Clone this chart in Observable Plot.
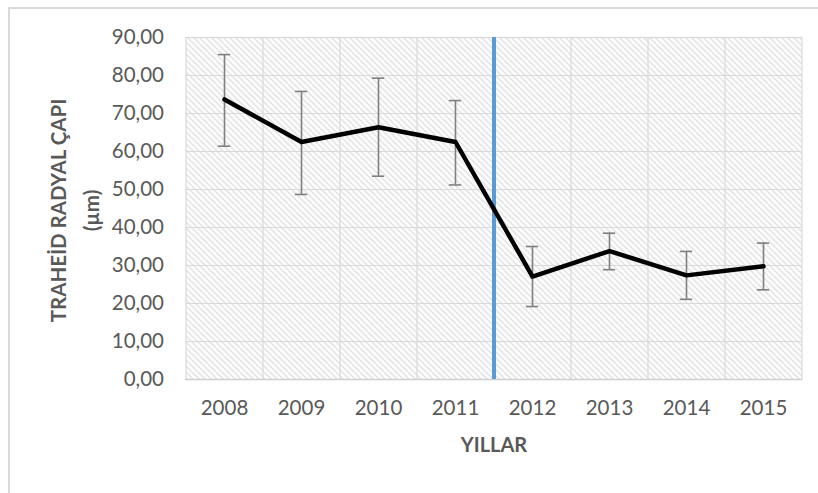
<!DOCTYPE html>
<html><head><meta charset="utf-8">
<script src="https://cdn.jsdelivr.net/npm/d3@7"></script>
<script src="https://cdn.jsdelivr.net/npm/@observablehq/plot@0.6"></script>
<style>
html,body{margin:0;padding:0;background:#fff;overflow:hidden;}
#wrap{position:relative;width:818px;height:493px;}
#border{position:absolute;left:8px;top:7px;width:840px;height:540px;border:2px solid #d9d9d9;box-sizing:border-box;}
#wrap svg{position:absolute;left:0;top:0;}
</style></head><body><div id="wrap"><div id="border"></div></div>
<script>
const years = ["2008", "2009", "2010", "2011", "2012", "2013", "2014", "2015"];
const means = [73.7, 62.5, 66.4, 62.5, 27.1, 33.8, 27.4, 29.8];
const upper = [85.5, 75.8, 79.3, 73.4, 35.0, 38.5, 33.7, 35.9];
const lower = [61.4, 48.7, 53.5, 51.2, 19.2, 28.9, 21.1, 23.6];
const yTicks = [0, 10, 20, 30, 40, 50, 60, 70, 80, 90];
const breakAfter = "2011";
const yTitle = "TRAHEİD RADYAL ÇAPI";
const yUnit = "(µm)";
const xTitle = "YILLAR";

const data = years.map((yr, i) => ({i, yr, mean: means[i], hi: upper[i], lo: lower[i]}));
const boundaries = years.slice(1).map((_, i) => i + 0.5);
const breakPos = [years.indexOf(breakAfter) + 0.5];
const capHalf = 0.08;
const fmt = d => d.toFixed(2).replace(".", ",");
const FONT = "Lato, 'Open Sans', sans-serif";

const chart = Plot.plot({
  width: 818,
  height: 493,
  marginLeft: 185.5,
  marginRight: 16.5,
  marginTop: 37,
  marginBottom: 114,
  style: {fontFamily: FONT, fontSize: "20.5px", color: "#595959", background: "transparent", overflow: "visible"},
  x: {type: "linear", domain: [-0.5, years.length - 0.5], axis: null},
  y: {domain: [0, 90], axis: null},
  marks: [
    Plot.frame({fill: "url(#hatch)", stroke: "#d9d9d9", strokeWidth: 1.2}),
    Plot.gridY(yTicks, {stroke: "#d9d9d9", strokeOpacity: 1, strokeWidth: 1.2}),
    Plot.ruleX(boundaries, {stroke: "#d9d9d9", strokeWidth: 1.2}),
    Plot.ruleY([0], {stroke: "#d0d0d0", strokeWidth: 1.5}),
    Plot.axisY(yTicks, {tickSize: 0, tickPadding: 22, tickFormat: fmt, fill: "#595959", fontSize: 20.5, label: null}),
    Plot.axisX(years.map((_, i) => i), {tickSize: 0, tickPadding: 21, tickFormat: i => years[i], fill: "#595959", fontSize: 20.5, label: null}),
    Plot.ruleX(breakPos, {stroke: "#5b9bd5", strokeWidth: 4}),
    Plot.ruleX(data, {x: "i", y1: "lo", y2: "hi", stroke: "#7f7f7f", strokeWidth: 1.6}),
    Plot.ruleY(data, {y: "hi", x1: d => d.i - capHalf, x2: d => d.i + capHalf, stroke: "#7f7f7f", strokeWidth: 1.6}),
    Plot.ruleY(data, {y: "lo", x1: d => d.i - capHalf, x2: d => d.i + capHalf, stroke: "#7f7f7f", strokeWidth: 1.6}),
    Plot.line(data, {x: "i", y: "mean", stroke: "#000", strokeWidth: 4.5, strokeLinejoin: "round", strokeLinecap: "round"}),
    Plot.text([yTitle + "\n" + yUnit], {frameAnchor: "left", rotate: -90, dx: -114, dy: 2, lineHeight: 1.6, fontWeight: "bold", fontSize: 20.5, fill: "#595959", textAnchor: "middle", lineAnchor: "middle"}),
    Plot.text([xTitle], {frameAnchor: "bottom", dy: 66, fontWeight: "bold", fontSize: 20, fill: "#595959", lineAnchor: "middle"})
  ]
});

const ns = "http://www.w3.org/2000/svg";
const defs = document.createElementNS(ns, "defs");
const pat = document.createElementNS(ns, "pattern");
pat.setAttribute("id", "hatch");
pat.setAttribute("patternUnits", "userSpaceOnUse");
pat.setAttribute("width", "6");
pat.setAttribute("height", "6");
const bg = document.createElementNS(ns, "rect");
bg.setAttribute("width", "6"); bg.setAttribute("height", "6"); bg.setAttribute("fill", "#ffffff");
pat.appendChild(bg);
const p = document.createElementNS(ns, "path");
p.setAttribute("d", "M-1,-1 L7,7 M5,-1 L7,1 M-1,5 L1,7");
p.setAttribute("stroke", "#d6d6d6");
p.setAttribute("stroke-width", "1.2");
pat.appendChild(p);
defs.appendChild(pat);
chart.insertBefore(defs, chart.firstChild);
document.getElementById("wrap").appendChild(chart);
</script>
</body></html>
